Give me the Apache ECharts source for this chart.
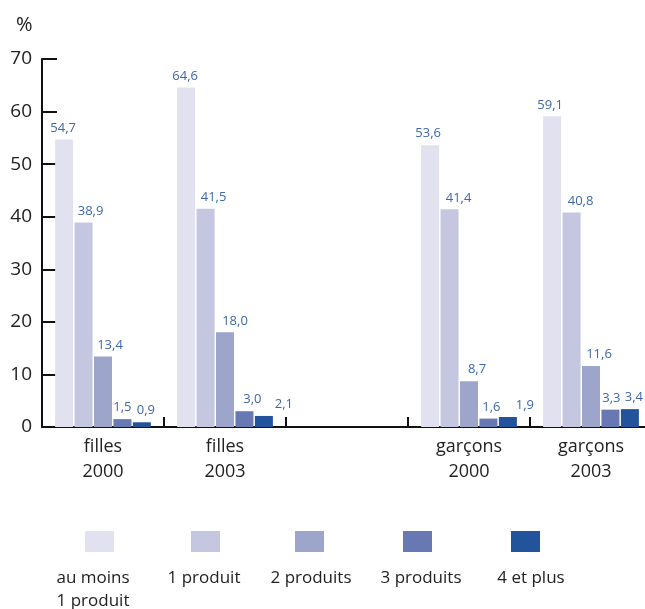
<!DOCTYPE html>
<html>
<head>
<meta charset="utf-8">
<script src="https://cdn.jsdelivr.net/npm/echarts@6/dist/echarts.min.js"></script>
<style>
  html, body { margin: 0; padding: 0; background: #fff; overflow: hidden; }
  /* the canvas is a little wider than the page so the last group runs to the edge */
  #chart { width: 660px; height: 609px; }
</style>
</head>
<body>
<div id="chart"></div>
<script>
// Groups on the x axis (the empty one is a spacer between girls and boys)
const categories = ['filles\n2000', 'filles\n2003', '', 'garçons\n2000', 'garçons\n2003'];

// Share of pupils (%) by number of products used
const auMoins1 = [54.7, 64.6, null, 53.6, 59.1];
const unProduit = [38.9, 41.5, null, 41.4, 40.8];
const deuxProduits = [13.4, 18.0, null, 8.7, 11.6];
const troisProduits = [1.5, 3.0, null, 1.6, 3.3];
const quatreEtPlus = [0.9, 2.1, null, 1.9, 3.4];

const seriesNames = ['au moins\n1 produit', '1 produit', '2 produits', '3 produits', '4 et plus'];
const yTicks = [0, 10, 20, 30, 40, 50, 60, 70];

const seriesData = [auMoins1, unProduit, deuxProduits, troisProduits, quatreEtPlus];
const colors = ['#e2e1ef', '#c5c7e0', '#9da5cb', '#6878b2', '#22539b'];
const labelColor = '#3f67ad';
const FONT = '"Open Sans", sans-serif';

// horizontal nudges (px) of the value labels, per series and per group
const labelNudge = [
  [-1, -1, 0, -2, -2],
  [7, 8, 0, 9, 9],
  [7, 10, 0, 8, 8],
  [0, 8, 0, 3, 1],
  [4, 20, 0, 17, 4]
];

const fmt = v => v.toFixed(1).replace('.', ',');

const series = seriesData.map((vals, s) => ({
  name: seriesNames[s],
  type: 'bar',
  barWidth: 18,
  barGap: '8%',
  itemStyle: { color: colors[s] },
  data: vals.map((v, c) => v === null ? null : {
    value: v,
    label: { offset: [labelNudge[s][c], 0] }
  }),
  label: {
    show: true,
    position: 'top',
    distance: 5,
    color: labelColor,
    fontFamily: FONT,
    fontSize: 13,
    formatter: p => fmt(p.value)
  }
}));

// legend: swatch row with captions underneath
const swatchX = [85, 191, 295, 403, 511];
const captionX = [93, 204, 311, 421, 531];
const legendGraphics = [];
seriesNames.forEach((name, i) => {
  legendGraphics.push({
    type: 'rect',
    shape: { x: swatchX[i], y: 531, width: 29, height: 21 },
    style: { fill: colors[i] }
  });
  legendGraphics.push({
    type: 'text',
    x: captionX[i],
    y: name.indexOf('\n') >= 0 ? 589.5 : 578,
    style: {
      text: name,
      fill: '#222',
      font: '17px ' + FONT,
      lineHeight: 23,
      align: 'center',
      verticalAlign: 'middle'
    }
  });
});

const chart = echarts.init(document.getElementById('chart'), null, { renderer: 'canvas' });
chart.setOption({
  animation: false,
  backgroundColor: '#fff',
  title: {
    text: '%',
    left: 11,
    top: 10,
    textStyle: { fontFamily: FONT, fontSize: 20, fontWeight: 'normal', color: '#222' }
  },
  grid: { left: 42, width: 610, top: 59, height: 368, containLabel: false },
  xAxis: {
    type: 'category',
    data: categories,
    axisLine: { show: true, lineStyle: { color: '#111', width: 2 } },
    axisTick: { show: true, inside: true, length: 10, lineStyle: { color: '#111', width: 2 } },
    axisLabel: {
      interval: 0,
      margin: 7,
      color: '#222',
      fontFamily: FONT,
      fontSize: 18,
      lineHeight: 25
    },
    splitLine: { show: false }
  },
  yAxis: {
    type: 'value',
    min: yTicks[0],
    max: yTicks[yTicks.length - 1],
    interval: yTicks[1] - yTicks[0],
    axisLine: { show: true, lineStyle: { color: '#111', width: 2 } },
    axisTick: { show: true, inside: true, length: 15, lineStyle: { color: '#111', width: 2 } },
    axisLabel: { margin: 10, color: '#222', fontFamily: FONT, fontSize: 19 },
    splitLine: { show: false }
  },
  series: series,
  graphic: legendGraphics
});
</script>
</body>
</html>
